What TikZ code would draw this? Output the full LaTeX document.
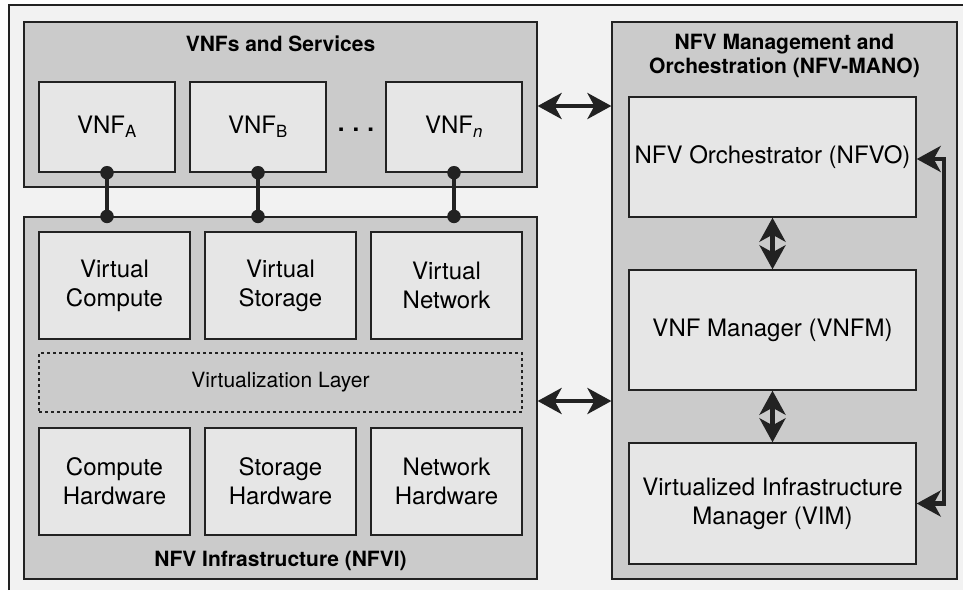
\documentclass[tikz,border=0pt]{standalone}
\usepackage{fontspec}
\setmainfont{TeX Gyre Heros}
\usetikzlibrary{arrows.meta,calc}
\definecolor{bgc}{HTML}{F2F2F2}
\definecolor{contc}{HTML}{CBCBCB}
\definecolor{boxc}{HTML}{E6E6E6}
\definecolor{linec}{HTML}{222222}
\begin{document}
\begin{tikzpicture}[x=1pt,y=-1pt,
 container/.style={draw=linec, fill=contc, line width=1.2pt, rectangle, inner sep=0pt},
 inbox/.style={draw=linec, fill=boxc, line width=1.4pt, rectangle, inner sep=0pt, align=center, font=\fontsize{24}{29}\selectfont},
 vlayer/.style={draw=linec, dashed, line width=1.1pt, rectangle, inner sep=0pt, font=\fontsize{21}{25}\selectfont},
 ttl/.style={font=\bfseries\fontsize{21}{24.5}\selectfont, align=center, inner sep=0pt},
 link/.style={line width=4.3pt, draw=linec},
 jdot/.style={circle, fill=linec, inner sep=0pt, minimum size=13.5pt},
 dbl/.style={line width=4.3pt, draw=linec, {Stealth[length=24pt,width=26pt,inset=7pt]}-{Stealth[length=24pt,width=26pt,inset=7pt]}}
]
\useasboundingbox (0,0) rectangle (963,590);
\fill[white] (0,0) rectangle (963,590);
\fill[bgc] (9,5) rectangle (963,590);
\draw[linec, line width=1.2pt] (9,590) -- (9,5) -- (963,5);

% VNFs and Services
\node[container, minimum width=513pt, minimum height=165pt] (vnfs) at (280.5,104.5) {};
\node[ttl] (vnfsT) at (280.5,44) {VNFs and Services};
\node[inbox, minimum width=136pt, minimum height=90pt] (vnfA) at (107,127) {VNF\textsubscript{A}};
\node[inbox, minimum width=136pt, minimum height=90pt] (vnfB) at (258,127) {VNF\textsubscript{B}};
\node[inbox, minimum width=136pt, minimum height=90pt] (vnfN) at (454,127) {VNF\textsubscript{\itshape n}};
\node[font=\bfseries\fontsize{24}{29}\selectfont, inner sep=0pt, anchor=base] (dots) at (356,131) {.\,\,.\,\,.};

% NFVI
\node[container, minimum width=513pt, minimum height=362pt] (nfvi) at (280.5,398) {};
\node[ttl] (nfviT) at (280.5,561) {NFV Infrastructure (NFVI)};
\node[inbox, minimum width=151pt, minimum height=107pt] (vc) at (114.5,285.5) {Virtual\\Compute};
\node[inbox, minimum width=151pt, minimum height=107pt] (vs) at (280.5,285.5) {Virtual\\Storage};
\node[inbox, minimum width=151pt, minimum height=107pt] (vn) at (446.5,285.5) {Virtual\\Network};
\node[vlayer, minimum width=483pt, minimum height=59pt] (vl) at (280.5,382.5) {Virtualization Layer};
\node[inbox, minimum width=151pt, minimum height=107pt] (ch) at (114.5,481.5) {Compute\\Hardware};
\node[inbox, minimum width=151pt, minimum height=107pt] (sh) at (280.5,481.5) {Storage\\Hardware};
\node[inbox, minimum width=151pt, minimum height=107pt] (nh) at (446.5,481.5) {Network\\Hardware};

% MANO
\node[container, minimum width=345pt, minimum height=557pt] (mano) at (784.5,300.5) {};
\node[ttl] (manoT) at (784.5,56) {NFV Management and\\Orchestration (NFV-MANO)};
\node[inbox, minimum width=287pt, minimum height=120pt] (nfvo) at (772.5,157) {NFV Orchestrator (NFVO)};
\node[inbox, minimum width=287pt, minimum height=120pt] (vnfm) at (772.5,330) {VNF Manager (VNFM)};
\node[inbox, minimum width=287pt, minimum height=121pt] (vim) at (772.5,503.5) {Virtualized Infrastructure\\Manager (VIM)};

% links VNF -> NFVI
\draw[link] (vnfA.south) -- (vnfA.south |- nfvi.north);
\draw[link] (vnfB.south) -- (vnfB.south |- nfvi.north);
\draw[link] (vnfN.south) -- (vnfN.south |- nfvi.north);
\node[jdot] (dA1) at (vnfA.south) {};
\node[jdot] (dA2) at (vnfA.south |- nfvi.north) {};
\node[jdot] (dB1) at (vnfB.south) {};
\node[jdot] (dB2) at (vnfB.south |- nfvi.north) {};
\node[jdot] (dN1) at (vnfN.south) {};
\node[jdot] (dN2) at (vnfN.south |- nfvi.north) {};

% arrows
\draw[dbl] ([yshift=-1.5pt]vnfs.east) -- ([yshift=-1.5pt]vnfs.east -| mano.west);
\draw[dbl] ([yshift=-3pt]nfvi.east) -- ([yshift=-3pt]nfvi.east -| mano.west);
\draw[dbl] (nfvo.south) -- (vnfm.north);
\draw[dbl] (vnfm.south) -- (vim.north);
\draw[dbl] (vim.east) -- ++(27,0) |- ([yshift=-2pt]nfvo.east);
\end{tikzpicture}
\end{document}
